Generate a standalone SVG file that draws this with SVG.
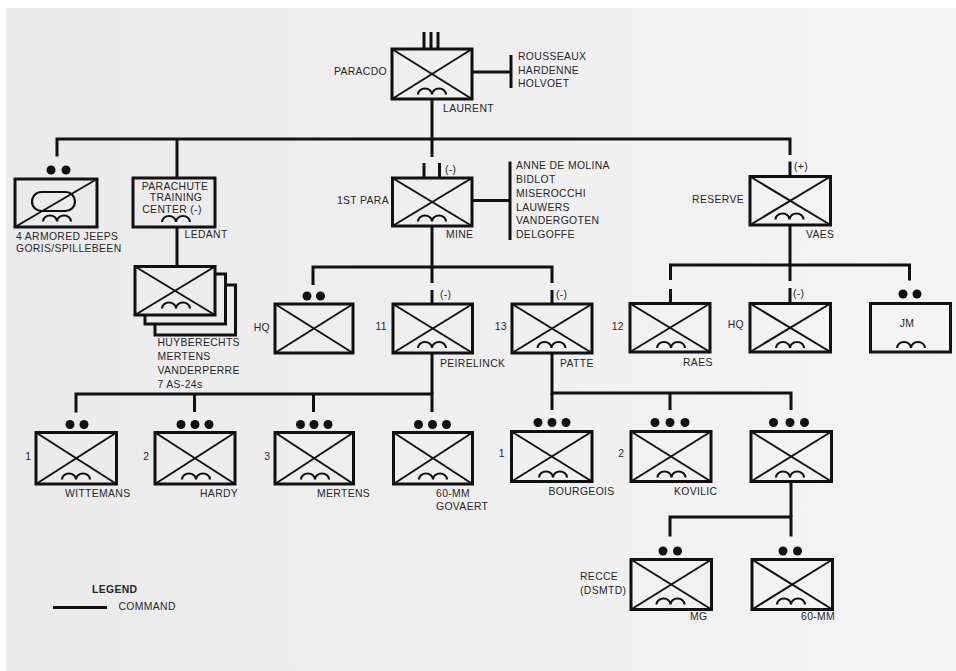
<svg xmlns="http://www.w3.org/2000/svg" width="956" height="671" viewBox="0 0 956 671">
<defs>
<linearGradient id="paper" x1="0" y1="0" x2="1" y2="0">
<stop offset="0" stop-color="#ebebeb"/>
<stop offset="1" stop-color="#f4f4f4"/>
</linearGradient>
<path id="ab" d="M-14 0 a7 6 0 0 1 14 0 a7 6 0 0 1 14 0" fill="none" stroke="#111" stroke-width="2.2"/>
</defs>
<style>
.box{fill:none;stroke:#111;stroke-width:3}
.bk{fill:#ededed;stroke:#111;stroke-width:3}
.x{stroke:#111;stroke-width:2}
.ech{stroke:#111;stroke-width:3}
.conn path{fill:none;stroke:#111;stroke-width:3}
.dot{fill:#111}
text{font-family:"Liberation Sans",Arial,sans-serif;font-size:10.4px;fill:#262626;letter-spacing:0.35px}
.e{text-anchor:end}
.m{text-anchor:middle}
.b{font-weight:bold}
</style>
<rect x="0" y="0" width="956" height="671" fill="#ffffff"/>
<rect x="6" y="8" width="950" height="663" fill="url(#paper)"/>

<g class="conn" id="connectors">
<path d="M432 99 V139"/>
<path d="M57 156.5 V139 H790 V155"/>
<path d="M177 139 V178"/>
<path d="M432 139 V157"/>
<path d="M177 227 V266.5"/>
<path d="M472 72 H511"/>
<path d="M511 55 V88"/>
<path d="M472 200.5 H510"/>
<path d="M510 161.5 V240"/>
<path d="M432 226 V267"/>
<path d="M313 285 V267 H552 V283"/>
<path d="M432 267 V283"/>
<path d="M790 225 V265"/>
<path d="M670.5 280 V265 H909.5 V280.5"/>
<path d="M790 265 V281"/>
<path d="M432 353 V394"/>
<path d="M76 412.5 V394 H432 V412"/>
<path d="M194.5 394 V412"/>
<path d="M313.5 394 V412"/>
<path d="M552 353 V393 H791 V410"/>
<path d="M552 393 V410"/>
<path d="M670 393 V410"/>
<path d="M791 481.5 V517"/>
<path d="M670 536.5 V517 H791 V536.5"/>
</g>

<g id="paracdo">
<line class="ech" x1="424" y1="32" x2="424" y2="49"/>
<line class="ech" x1="431" y1="32" x2="431" y2="49"/>
<line class="ech" x1="438" y1="32" x2="438" y2="49"/>
<rect class="box" x="392" y="49" width="80" height="50"/>
<line class="x" x1="392" y1="49" x2="472" y2="99"/>
<line class="x" x1="472" y1="49" x2="392" y2="99"/>
<use href="#ab" x="432" y="94.5"/>
<text class="e" x="387" y="75">PARACDO</text>
<text x="443" y="112">LAURENT</text>
<text x="518" y="59.5">ROUSSEAUX</text>
<text x="518" y="73.5">HARDENNE</text>
<text x="518" y="86.5">HOLVOET</text>
</g>

<g id="armored-jeeps">
<circle class="dot" cx="51" cy="170" r="4.5"/>
<circle class="dot" cx="66" cy="170" r="4.5"/>
<rect class="box" x="15" y="179" width="82" height="48"/>
<line class="x" x1="15" y1="227" x2="97" y2="179"/>
<rect x="32" y="192" width="43" height="19" rx="9.5" fill="none" stroke="#111" stroke-width="2.2"/>
<use href="#ab" x="57" y="221.5"/>
<text x="16" y="240">4 ARMORED JEEPS</text>
<text x="16" y="252">GORIS/SPILLEBEEN</text>
</g>

<g id="training-center">
<rect class="box" x="133" y="178" width="82" height="49"/>
<text class="m" x="175" y="190">PARACHUTE</text>
<text class="m" x="176" y="201">TRAINING</text>
<text class="m" x="172" y="213">CENTER (-)</text>
<use href="#ab" x="176" y="222"/>
<text x="184.5" y="238">LEDANT</text>
</g>

<g id="as24-stack">
<rect class="bk" x="155" y="285" width="80.5" height="50"/>
<rect class="bk" x="145" y="274" width="80.5" height="50"/>
<rect class="bk" x="135" y="266.5" width="80" height="48.5"/>
<line class="x" x1="135" y1="266.5" x2="215" y2="315"/>
<line class="x" x1="215" y1="266.5" x2="135" y2="315"/>
<use href="#ab" x="176" y="308.5"/>
<text x="157.5" y="346">HUYBERECHTS</text>
<text x="157.5" y="360">MERTENS</text>
<text x="157.5" y="374">VANDERPERRE</text>
<text x="157.5" y="388">7 AS-24s</text>
</g>

<g id="first-para">
<line class="ech" x1="424" y1="163" x2="424" y2="178"/>
<line class="ech" x1="439.5" y1="163" x2="439.5" y2="178"/>
<text x="445" y="173">(-)</text>
<rect class="box" x="392.5" y="178" width="79.5" height="48"/>
<line class="x" x1="392.5" y1="178" x2="472" y2="226"/>
<line class="x" x1="472" y1="178" x2="392.5" y2="226"/>
<use href="#ab" x="432" y="221.5"/>
<text class="e" x="389" y="204">1ST PARA</text>
<text x="446" y="238">MINE</text>
<text x="516" y="169">ANNE DE MOLINA</text>
<text x="516" y="183">BIDLOT</text>
<text x="516" y="197">MISEROCCHI</text>
<text x="516" y="210.5">LAUWERS</text>
<text x="516" y="224">VANDERGOTEN</text>
<text x="516" y="237.5">DELGOFFE</text>
</g>

<g id="reserve">
<line class="ech" x1="790" y1="161.5" x2="790" y2="176.5"/>
<text x="794" y="170">(+)</text>
<rect class="box" x="750" y="176.5" width="80.5" height="48.5"/>
<line class="x" x1="750" y1="176.5" x2="830.5" y2="225"/>
<line class="x" x1="830.5" y1="176.5" x2="750" y2="225"/>
<use href="#ab" x="789.5" y="219.5"/>
<text class="e" x="744" y="203">RESERVE</text>
<text x="806" y="237.5">VAES</text>
</g>

<g id="para-hq">
<circle class="dot" cx="307" cy="296" r="4.5"/>
<circle class="dot" cx="320.5" cy="296" r="4.5"/>
<rect class="box" x="275" y="304" width="78" height="49"/>
<line class="x" x1="275" y1="304" x2="353" y2="353"/>
<line class="x" x1="353" y1="304" x2="275" y2="353"/>
<text class="e" x="270" y="331">HQ</text>
</g>

<g id="coy-11">
<line class="ech" x1="432" y1="290" x2="432" y2="304"/>
<text x="440" y="298">(-)</text>
<rect class="box" x="393" y="304" width="79.5" height="49"/>
<line class="x" x1="393" y1="304" x2="472.5" y2="353"/>
<line class="x" x1="472.5" y1="304" x2="393" y2="353"/>
<use href="#ab" x="432" y="348"/>
<text class="e" x="387" y="330">11</text>
<text x="440" y="367">PEIRELINCK</text>
</g>

<g id="coy-13">
<line class="ech" x1="552" y1="290" x2="552" y2="304"/>
<text x="556" y="298">(-)</text>
<rect class="box" x="512" y="304" width="80" height="49"/>
<line class="x" x1="512" y1="304" x2="592" y2="353"/>
<line class="x" x1="592" y1="304" x2="512" y2="353"/>
<use href="#ab" x="551.5" y="348"/>
<text class="e" x="507" y="330">13</text>
<text x="560" y="367">PATTE</text>
</g>

<g id="coy-12">
<line class="ech" x1="670.5" y1="289" x2="670.5" y2="303.5"/>
<rect class="box" x="630" y="303.5" width="80" height="48.5"/>
<line class="x" x1="630" y1="303.5" x2="710" y2="352"/>
<line class="x" x1="710" y1="303.5" x2="630" y2="352"/>
<use href="#ab" x="671" y="348"/>
<text class="e" x="624" y="330">12</text>
<text x="683" y="365.5">RAES</text>
</g>

<g id="reserve-hq">
<line class="ech" x1="790" y1="288" x2="790" y2="303.5"/>
<text x="793" y="297">(-)</text>
<rect class="box" x="750" y="303.5" width="80.5" height="48.5"/>
<line class="x" x1="750" y1="303.5" x2="830.5" y2="352"/>
<line class="x" x1="830.5" y1="303.5" x2="750" y2="352"/>
<use href="#ab" x="790" y="348"/>
<text class="e" x="744" y="328">HQ</text>
</g>

<g id="jm">
<circle class="dot" cx="903" cy="294" r="4.5"/>
<circle class="dot" cx="917" cy="294" r="4.5"/>
<rect class="box" x="870.5" y="303.5" width="80" height="48.5"/>
<text class="m" x="907" y="327">JM</text>
<use href="#ab" x="911" y="348"/>
</g>

<g id="plt-1-wittemans">
<circle class="dot" cx="70" cy="424.5" r="4.5"/>
<circle class="dot" cx="84" cy="424.5" r="4.5"/>
<rect class="box" x="36" y="432.5" width="80.5" height="51.5"/>
<line class="x" x1="36" y1="432.5" x2="116.5" y2="484"/>
<line class="x" x1="116.5" y1="432.5" x2="36" y2="484"/>
<use href="#ab" x="76" y="479.5"/>
<text class="e" x="31.5" y="460">1</text>
<text x="65" y="496.5">WITTEMANS</text>
</g>

<g id="plt-2-hardy">
<circle class="dot" cx="181" cy="424.5" r="4.5"/>
<circle class="dot" cx="195" cy="424.5" r="4.5"/>
<circle class="dot" cx="209" cy="424.5" r="4.5"/>
<rect class="box" x="155" y="432.5" width="80" height="51.5"/>
<line class="x" x1="155" y1="432.5" x2="235" y2="484"/>
<line class="x" x1="235" y1="432.5" x2="155" y2="484"/>
<use href="#ab" x="196" y="479.5"/>
<text class="e" x="149.5" y="460">2</text>
<text x="200" y="496.5">HARDY</text>
</g>

<g id="plt-3-mertens">
<circle class="dot" cx="300.5" cy="424.5" r="4.5"/>
<circle class="dot" cx="314" cy="424.5" r="4.5"/>
<circle class="dot" cx="328" cy="424.5" r="4.5"/>
<rect class="box" x="275" y="432.5" width="78.5" height="51.5"/>
<line class="x" x1="275" y1="432.5" x2="353.5" y2="484"/>
<line class="x" x1="353.5" y1="432.5" x2="275" y2="484"/>
<use href="#ab" x="315" y="479.5"/>
<text class="e" x="270.5" y="460">3</text>
<text x="317" y="496.5">MERTENS</text>
</g>

<g id="plt-60mm-govaert">
<circle class="dot" cx="418.5" cy="424.5" r="4.5"/>
<circle class="dot" cx="432.5" cy="424.5" r="4.5"/>
<circle class="dot" cx="446.5" cy="424.5" r="4.5"/>
<rect class="box" x="393.5" y="432.5" width="79" height="51.5"/>
<line class="x" x1="393.5" y1="432.5" x2="472.5" y2="484"/>
<line class="x" x1="472.5" y1="432.5" x2="393.5" y2="484"/>
<use href="#ab" x="433" y="479.5"/>
<text x="436" y="496.5">60-MM</text>
<text x="436" y="510">GOVAERT</text>
</g>

<g id="plt-1-bourgeois">
<circle class="dot" cx="538" cy="422.5" r="4.5"/>
<circle class="dot" cx="552" cy="422.5" r="4.5"/>
<circle class="dot" cx="566" cy="422.5" r="4.5"/>
<rect class="box" x="511.5" y="431.5" width="80.5" height="50"/>
<line class="x" x1="511.5" y1="431.5" x2="592" y2="481.5"/>
<line class="x" x1="592" y1="431.5" x2="511.5" y2="481.5"/>
<use href="#ab" x="553" y="477.5"/>
<text class="e" x="505" y="457">1</text>
<text x="548.5" y="495">BOURGEOIS</text>
</g>

<g id="plt-2-kovilic">
<circle class="dot" cx="655" cy="422.5" r="4.5"/>
<circle class="dot" cx="670" cy="422.5" r="4.5"/>
<circle class="dot" cx="685" cy="422.5" r="4.5"/>
<rect class="box" x="631" y="431.5" width="80" height="50"/>
<line class="x" x1="631" y1="431.5" x2="711" y2="481.5"/>
<line class="x" x1="711" y1="431.5" x2="631" y2="481.5"/>
<use href="#ab" x="671.5" y="477.5"/>
<text class="e" x="624.5" y="457">2</text>
<text x="674" y="495">KOVILIC</text>
</g>

<g id="plt-3">
<circle class="dot" cx="773.5" cy="422.5" r="4.5"/>
<circle class="dot" cx="790" cy="422.5" r="4.5"/>
<circle class="dot" cx="804.5" cy="422.5" r="4.5"/>
<rect class="box" x="751" y="431.5" width="80.5" height="50"/>
<line class="x" x1="751" y1="431.5" x2="831.5" y2="481.5"/>
<line class="x" x1="831.5" y1="431.5" x2="751" y2="481.5"/>
<use href="#ab" x="790" y="477.5"/>
</g>

<g id="sec-mg">
<circle class="dot" cx="663" cy="551" r="4.5"/>
<circle class="dot" cx="677.5" cy="551" r="4.5"/>
<rect class="box" x="631" y="559.5" width="80.5" height="50"/>
<line class="x" x1="631" y1="559.5" x2="711.5" y2="609.5"/>
<line class="x" x1="711.5" y1="559.5" x2="631" y2="609.5"/>
<use href="#ab" x="670.5" y="604.5"/>
<text x="580" y="580">RECCE</text>
<text x="580" y="593.5">(DSMTD)</text>
<text x="690" y="620">MG</text>
</g>

<g id="sec-60mm">
<circle class="dot" cx="783" cy="551" r="4.5"/>
<circle class="dot" cx="797.5" cy="551" r="4.5"/>
<rect class="box" x="752" y="559.5" width="80.5" height="50"/>
<line class="x" x1="752" y1="559.5" x2="832.5" y2="609.5"/>
<line class="x" x1="832.5" y1="559.5" x2="752" y2="609.5"/>
<use href="#ab" x="791" y="604.5"/>
<text x="801" y="620">60-MM</text>
</g>

<g id="legend">
<text class="b" x="92" y="592.5">LEGEND</text>
<line x1="53" y1="607.5" x2="107" y2="607.5" stroke="#111" stroke-width="3"/>
<text x="118.5" y="609.5">COMMAND</text>
</g>
</svg>
